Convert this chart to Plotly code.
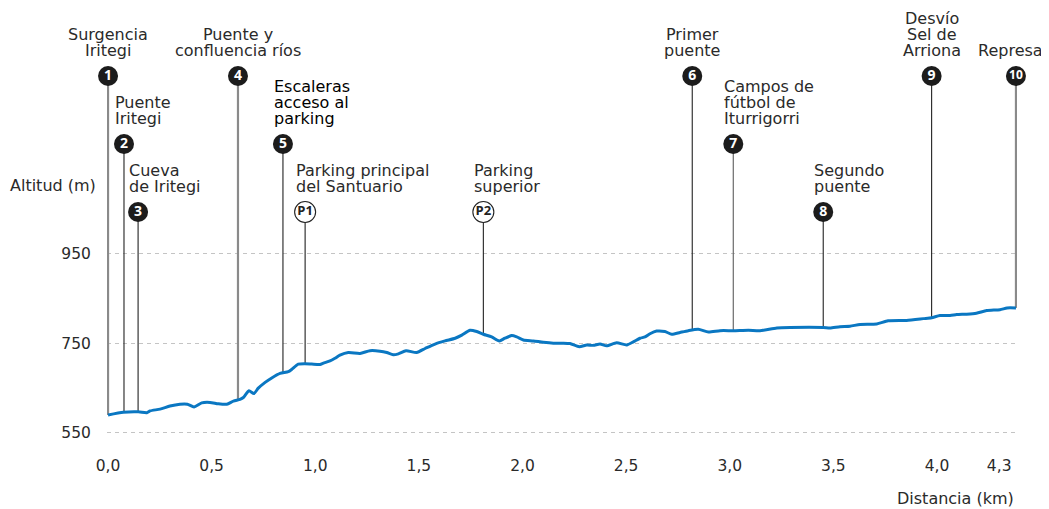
import numpy as np
import plotly.graph_objects as go

# ---------------- data ----------------
dist_km = [0.000, 0.074, 0.146, 0.187, 0.203, 0.251, 0.299, 0.347, 0.383, 0.415,
           0.452, 0.492, 0.532, 0.573, 0.605, 0.637, 0.653, 0.680, 0.704, 0.725,
           0.758, 0.790, 0.830, 0.870, 0.886, 0.918, 0.950, 0.983, 1.023, 1.039,
           1.071, 1.095, 1.119, 1.159, 1.216, 1.264, 1.312, 1.345, 1.376, 1.401,
           1.438, 1.489, 1.530, 1.578, 1.626, 1.675, 1.707, 1.747, 1.779, 1.811,
           1.851, 1.888, 1.915, 1.948, 1.972, 2.004, 2.052, 2.100, 2.149, 2.197,
           2.229, 2.274, 2.310, 2.342, 2.374, 2.406, 2.454, 2.503, 2.535, 2.567,
           2.591, 2.615, 2.647, 2.687, 2.720, 2.760, 2.800, 2.848, 2.897, 2.953,
           3.017, 3.090, 3.146, 3.227, 3.291, 3.451, 3.484, 3.532, 3.580, 3.629,
           3.709, 3.764, 3.853, 3.934, 3.974, 4.014, 4.063, 4.095, 4.143, 4.190,
           4.240, 4.304, 4.338, 4.381]
altitude_m = [589, 595, 596, 594, 598, 602, 609, 613, 613, 607,
              616, 617, 614, 613, 620, 624, 628, 643, 637, 649,
              662, 672, 682, 686, 691, 703, 704, 703, 702, 705,
              710, 716, 723, 729, 727, 733, 732, 729, 724, 726,
              733, 729, 738, 748, 755, 761, 768, 779, 776, 770,
              764, 755, 761, 767, 764, 757, 755, 752, 750, 750,
              749, 742, 746, 745, 748, 744, 751, 746, 753, 761,
              764, 771, 777, 776, 770, 774, 778, 781, 775, 778,
              778, 779, 778, 784, 785, 785, 784, 787, 788, 792,
              793, 800, 801, 805, 807, 812, 812, 814, 815, 817,
              823, 825, 829, 829]

wp_km = [0.000, 0.077, 0.145, 0.627, 0.844, 0.951, 1.811, 2.819, 3.017, 3.451, 3.974, 4.381]
wp_symbol = ["1", "2", "3", "4", "5", "P1", "P2", "6", "7", "8", "9", "10"]
wp_label = [
    ["Surgencia", "Iritegi"],
    ["Puente", "Iritegi"],
    ["Cueva", "de Iritegi"],
    ["Puente y", "confluencia ríos"],
    ["Escaleras", "acceso al", "parking"],
    ["Parking principal", "del Santuario"],
    ["Parking", "superior"],
    ["Primer", "puente"],
    ["Campos de", "fútbol de", "Iturrigorri"],
    ["Segundo", "puente"],
    ["Desvío", "Sel de", "Arriona"],
    ["Represa"],
]
wp_tier = [0, 1, 2, 0, 1, 2, 2, 0, 1, 2, 0, 0]

y_tickvals = [550, 750, 950]
y_ticktext = ["550", "750", "950"]
x_tickvals = [0.0, 0.5, 1.0, 1.5, 2.0, 2.5, 3.0, 3.5, 4.0, 4.3]
x_ticktext = ["0,0", "0,5", "1,0", "1,5", "2,0", "2,5", "3,0", "3,5", "4,0", "4,3"]

# ---------------- layout geometry (page pixels) ----------------
PAGE_W, PAGE_H = 1049, 509
OFF = 8                      # default body margin of the html page
W, H = PAGE_W - OFF, PAGE_H - OFF
PX_PER_KM = 207.25
PX_PER_M = 0.4458
X0_PX = 108.0
Y550_PX = 432.3
PLOT_TOP_PX, PLOT_BOT_PX = OFF, 450.0


def y_at(px):
    return 550 + (Y550_PX - px) / PX_PER_M


x_range = [-0.005, 4.386]
ml = X0_PX + x_range[0] * PX_PER_KM - OFF
pw = (x_range[1] - x_range[0]) * PX_PER_KM
mr = W - ml - pw
y_range = [y_at(PLOT_BOT_PX), y_at(PLOT_TOP_PX)]

tier_px = [76, 144, 212]
tier_y = [y_at(p) for p in tier_px]

FONT = "DejaVu Sans, Verdana, sans-serif"
TXT = "#2a2a2a"
BLUE = "#0a77c2"
LBL = 16

fig = go.Figure()

# vertical connector lines
for k, sym, t in zip(wp_km, wp_symbol, wp_tier):
    ground = float(np.interp(k, dist_km, altitude_m))
    if sym in ("1", "4", "10"):
        col, wid = "#8a8a8a", 2.2
    elif sym == "7":
        col, wid = "#6a6a6a", 1.2
    else:
        col, wid = "#222222", 1.1
    fig.add_trace(go.Scatter(x=[k, k], y=[ground, tier_y[t]], mode="lines",
                             line=dict(color=col, width=wid), hoverinfo="skip",
                             showlegend=False))

# profile
fig.add_trace(go.Scatter(x=dist_km, y=altitude_m, mode="lines",
                         line=dict(color=BLUE, width=3, shape="spline", smoothing=0.6),
                         showlegend=False, cliponaxis=False))

# circles
num_idx = [i for i, s in enumerate(wp_symbol) if not s.startswith("P")]
p_idx = [i for i, s in enumerate(wp_symbol) if s.startswith("P")]
fig.add_trace(go.Scatter(
    x=[wp_km[i] for i in num_idx], y=[tier_y[wp_tier[i]] for i in num_idx],
    mode="markers+text", text=[wp_symbol[i] for i in num_idx],
    textposition="middle center",
    textfont=dict(family="Open Sans, sans-serif",
                  size=[14 if len(wp_symbol[i]) == 1 else 12 for i in num_idx],
                  color="white", weight="bold"),
    marker=dict(size=20, color="#1c1c1c", line=dict(width=0)),
    cliponaxis=False, showlegend=False, hoverinfo="skip"))
fig.add_trace(go.Scatter(
    x=[wp_km[i] for i in p_idx], y=[tier_y[wp_tier[i]] for i in p_idx],
    mode="markers+text", text=[wp_symbol[i] for i in p_idx],
    textposition="middle center",
    textfont=dict(family="Open Sans, sans-serif", size=13, color="#222", weight="bold"),
    marker=dict(size=21, color="white", line=dict(width=1.1, color="#222")),
    cliponaxis=False, showlegend=False, hoverinfo="skip"))

# labels (one annotation per line, tight spacing)
annotations = []
LINE_H = 16
for k, lines, t, sym in zip(wp_km, wp_label, wp_tier, wp_symbol):
    n = len(lines)
    for j, line in enumerate(lines):
        shift = 25.5 + LINE_H * (n - 1 - j)
        if t == 0:
            xa, xs = "center", (-5 if sym == "10" else 0)
        else:
            xa, xs = "left", -11
        annotations.append(dict(
            x=k, y=tier_y[t], xref="x", yref="y", text=line, showarrow=False,
            xanchor=xa, yanchor="middle", xshift=xs, yshift=shift,
            font=dict(family=FONT, size=LBL, color="#000" if sym == "5" else TXT)))

annotations.append(dict(x=0, y=y_at(185), xref="paper", yref="y", text="Altitud (m)",
                        showarrow=False, xanchor="left", yanchor="middle",
                        xshift=-(ml + OFF - 8),
                        font=dict(family=FONT, size=LBL, color=TXT)))
annotations.append(dict(x=1, y=0, xref="paper", yref="paper", text="Distancia (km)",
                        showarrow=False, xanchor="right", yanchor="middle", xshift=-1,
                        yshift=-(498 - PLOT_BOT_PX),
                        font=dict(family=FONT, size=LBL, color=TXT)))

fig.update_layout(
    width=W, height=H,
    margin=dict(l=ml, r=mr, t=PLOT_TOP_PX - OFF, b=H - (PLOT_BOT_PX - OFF), pad=0),
    paper_bgcolor="white", plot_bgcolor="white",
    annotations=annotations,
    xaxis=dict(range=x_range, tickvals=x_tickvals, ticktext=x_ticktext,
               showgrid=False, zeroline=False, showline=False,
               ticks="outside", ticklen=1, tickcolor="rgba(0,0,0,0)",
               tickfont=dict(family=FONT, size=15.5, color=TXT), fixedrange=True),
    yaxis=dict(range=y_range, tickvals=y_tickvals, ticktext=y_ticktext,
               showgrid=True, gridcolor="#c4c4c4", gridwidth=1.2, griddash="4px,4px",
               zeroline=False, showline=False,
               ticks="outside", ticklen=12, tickcolor="rgba(0,0,0,0)",
               tickfont=dict(family=FONT, size=15.5, color=TXT), fixedrange=True),
    showlegend=False,
)

fig.write_html("out.html")
